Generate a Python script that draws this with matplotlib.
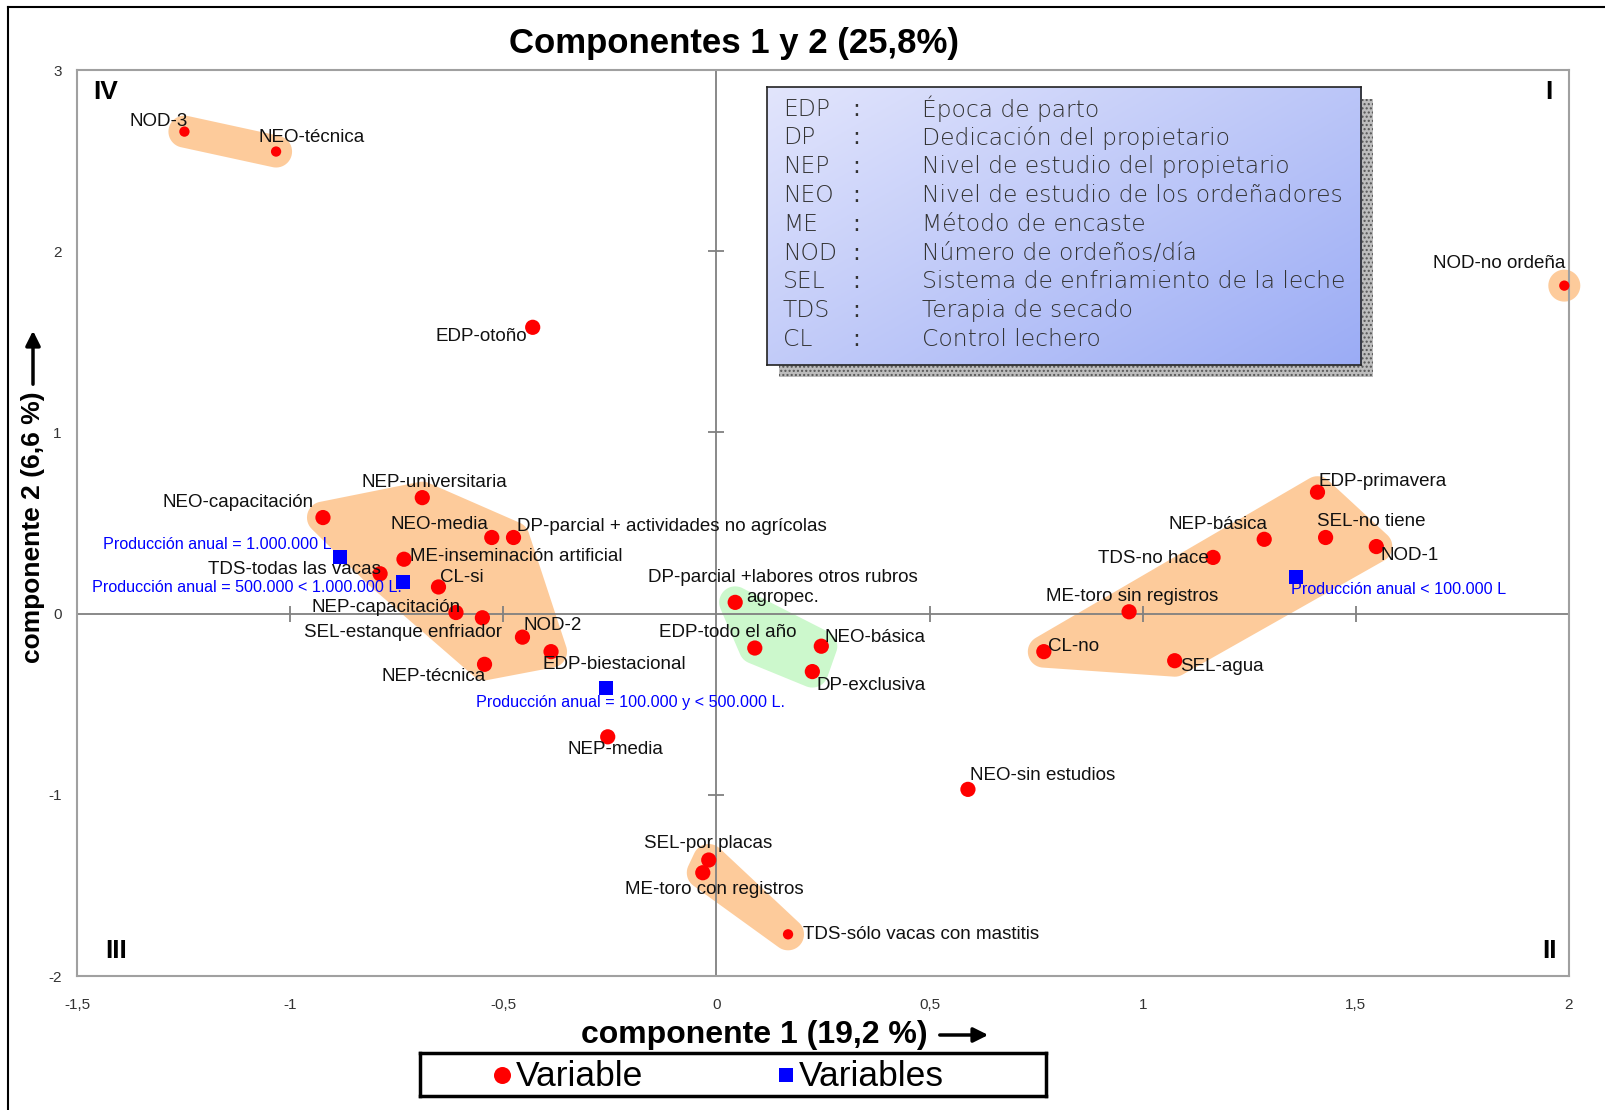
import matplotlib.pyplot as plt
import numpy as np
from matplotlib.patches import Rectangle

# coordenadas de las variables (componente 1, componente 2)
variables = ["NOD-3", "NEO-técnica", "NOD-no ordeña", "EDP-otoño",
             "NEO-capacitación", "NEP-universitaria", "NEO-media",
             "DP-parcial + actividades no agrícolas", "ME-inseminación artificial",
             "TDS-todas las vacas", "CL-si", "NEP-capacitación",
             "SEL-estanque enfriador", "NOD-2", "EDP-biestacional", "NEP-técnica",
             "NEP-media", "DP-parcial +labores otros rubros\nagropec.",
             "EDP-todo el año", "NEO-básica", "DP-exclusiva", "NEO-sin estudios",
             "SEL-por placas", "ME-toro con registros", "TDS-sólo vacas con mastitis",
             "EDP-primavera", "SEL-no tiene", "NEP-básica", "NOD-1", "TDS-no hace",
             "ME-toro sin registros", "CL-no", "SEL-agua"]
comp1 = [-1.248, -1.033, 1.989, -0.431,
         -0.923, -0.690, -0.527,
         -0.476, -0.733,
         -0.789, -0.652, -0.611,
         -0.549, -0.455, -0.388, -0.544,
         -0.255, 0.044,
         0.090, 0.246, 0.225, 0.590,
         -0.018, -0.032, 0.168,
         1.410, 1.429, 1.285, 1.548, 1.165,
         0.968, 0.768, 1.075]
comp2 = [2.66, 2.55, 1.81, 1.58,
         0.53, 0.64, 0.42,
         0.42, 0.30,
         0.22, 0.147, 0.006,
         -0.023, -0.13, -0.21, -0.28,
         -0.68, 0.062,
         -0.19, -0.18, -0.32, -0.97,
         -1.36, -1.43, -1.77,
         0.67, 0.42, 0.41, 0.37, 0.31,
         0.01, -0.21, -0.26]

# produccion anual (cuadrados azules)
produccion = ["Producción anual = 1.000.000 L", "Producción anual = 500.000 < 1.000.000 L.",
              "Producción anual = 100.000 y < 500.000 L.", "Producción anual < 100.000 L"]
prod1 = [-0.883, -0.736, -0.258, 1.360]
prod2 = [0.31, 0.175, -0.41, 0.20]

# grupos sombreados (indices de variables)
grupos = [[0, 1], [2], list(range(4, 16)), [22, 23, 24], list(range(25, 33)), [17, 18, 19, 20]]
colores_grupo = ["#fdcb9b"] * 5 + ["#ccf8cc"]

abrev = ["EDP", "DP", "NEP", "NEO", "ME", "NOD", "SEL", "TDS", "CL"]
significado = ["Época de parto", "Dedicación del propietario", "Nivel de estudio del propietario",
               "Nivel de estudio de los ordeñadores", "Método de encaste", "Número de ordeños/día",
               "Sistema de enfriamiento de la leche", "Terapia de secado", "Control lechero"]

xticks = [-1.5, -1, -0.5, 0, 0.5, 1, 1.5, 2]
xticklabels = ["-1,5", "-1", "-0,5", "0", "0,5", "1", "1,5", "2"]
yticks = [-2, -1, 0, 1, 2, 3]
yticklabels = ["-2", "-1", "0", "1", "2", "3"]

# posicion de etiquetas (pixeles respecto al punto)
etq = [(3, 10, "right"), (-18, 14, "left"), (1, 22, "right"), (-6, -9, "right"),
       (-9, 15, "right"), (-61, 15, "left"), (-3, 13, "right"),
       (3, 11, "left"), (6, 3, "left"),
       (1, 4, "right"), (2, 9, "left"), (5, 5, "right"),
       (20, -15, "right"), (1, 12, "left"), (-9, -13, "left"), (1, -12, "right"),
       (-40, -13, "left"), (48, 15, "center"),
       (-96, 16, "left"), (3, 9, "left"), (4, -14, "left"), (2, 14, "left"),
       (-65, 17, "left"), (-78, -17, "left"), (15, 0, "left"),
       (1, 11, "left"), (-9, 16, "left"), (3, 15, "right"), (4, -9, "left"), (-4, -1, "right"),
       (-83, 15, "left"), (4, 5, "left"), (5, -6, "left")]
etq_prod = [(-8, 13, "right"), (-1, -6, "right"), (-130, -15, "left"), (-5, -12, "left")]
pequenos = {"NOD-3", "NEO-técnica", "NOD-no ordeña", "TDS-sólo vacas con mastitis"}

W, H = 1606, 1110
plt.rcParams['font.family'] = ['Liberation Sans', 'DejaVu Sans']

fig = plt.figure(figsize=(W / 100, H / 100), dpi=100)


def px(x, y):
    return x / W, 1 - y / H


ax = fig.add_axes([77 / W, 1 - 976 / H, 1492 / W, 906 / H])
ax.set_xlim(-1.5, 2)
ax.set_ylim(-2, 3)
for s in ax.spines.values():
    s.set_color("#a0a0a0")
    s.set_linewidth(1.5)
ax.set_xticks(xticks)
ax.set_xticklabels(xticklabels)
ax.set_yticks(yticks)
ax.set_yticklabels(yticklabels)
ax.tick_params(length=0, labelsize=11, labelcolor="#333333")
ax.tick_params(axis="x", pad=16)
ax.tick_params(axis="y", pad=11)


def hull(p):
    p = sorted(map(tuple, p))

    def cross(o, a, b):
        return (a[0] - o[0]) * (b[1] - o[1]) - (a[1] - o[1]) * (b[0] - o[0])
    lo, up = [], []
    for q in p:
        while len(lo) >= 2 and cross(lo[-2], lo[-1], q) <= 0:
            lo.pop()
        lo.append(q)
    for q in reversed(p):
        while len(up) >= 2 and cross(up[-2], up[-1], q) <= 0:
            up.pop()
        up.append(q)
    return np.array(lo[:-1] + up[:-1])


# manchas alrededor de los grupos
ang = np.linspace(0, 2 * np.pi, 48, endpoint=False)
circ = np.column_stack([np.cos(ang), np.sin(ang)])
for g, col in zip(grupos, colores_grupo):
    pts = ax.transData.transform(np.column_stack([np.take(comp1, g), np.take(comp2, g)]))
    ring = np.vstack([p + 16 * circ for p in pts])
    poly = ax.transData.inverted().transform(hull(ring))
    ax.fill(poly[:, 0], poly[:, 1], color=col, lw=0, zorder=1, clip_on=False)

# ejes cruzados con marcas
ax.axhline(0, color="#808080", lw=1.3, zorder=2)
ax.axvline(0, color="#808080", lw=1.3, zorder=2)
ax.plot([t for t in xticks if t != 0], [0] * 7, ls="none", marker="|", ms=11,
        mew=1.3, color="#808080", zorder=2, clip_on=False)
ax.plot([0] * 5, [t for t in yticks if t != 0], ls="none", marker="_", ms=11,
        mew=1.3, color="#808080", zorder=2, clip_on=False)

tam = [55 if v in pequenos else 120 for v in variables]
ax.scatter(comp1, comp2, s=tam, c="#ff0000", lw=0, zorder=4, clip_on=False)
ax.scatter(prod1, prod2, s=90, c="#0000ff", marker="s", lw=0, zorder=4)

for v, x, y, (dx, dy, ha) in zip(variables, comp1, comp2, etq):
    ax.annotate(v, (x, y), xytext=(dx, dy), textcoords="offset pixels", ha=ha,
                va="center", fontsize=13.5, color="#111111", zorder=5,
                multialignment="center")
for v, x, y, (dx, dy, ha) in zip(produccion, prod1, prod2, etq_prod):
    ax.annotate(v, (x, y), xytext=(dx, dy), textcoords="offset pixels", ha=ha,
                va="center", fontsize=11.6, color="#0000ff", zorder=5)

# cuadrantes
for txt, qx, qy in [("IV", 0.0194, 0.9757), ("I", 0.9866, 0.9757),
                    ("III", 0.026, 0.0276), ("II", 0.9866, 0.0276)]:
    ax.text(qx, qy, txt, transform=ax.transAxes, ha="center", va="center",
            fontsize=19, fontweight="bold")

# cuadro de abreviaturas
fig.add_artist(Rectangle(px(779, 377), 594 / W, 278 / H, transform=fig.transFigure,
                         facecolor="#bdbdbd", edgecolor="#555555", hatch="....",
                         lw=0, zorder=2))
bx = fig.add_axes([767 / W, 1 - 365 / H, 594 / W, 278 / H], zorder=3)
gx, gy = np.meshgrid(np.linspace(0, 1, 200), np.linspace(0, 1, 100))
grad = 0.55 * gx + 0.45 * gy
c0 = np.array([226, 229, 252]) / 255
c1 = np.array([155, 172, 245]) / 255
bx.imshow(c0 + grad[..., None] * (c1 - c0), extent=[0, 1, 0, 1], aspect="auto",
          origin="upper")
bx.set_xticks([])
bx.set_yticks([])
for s in bx.spines.values():
    s.set_color("#222222")
    s.set_linewidth(1.2)
for i, (a, d) in enumerate(zip(abrev, significado)):
    yy = 109 + i * 28.8
    fig.text(*px(783, yy), a, ha="left", va="center", fontsize=16.8, color="#333333",
             family="DejaVu Sans", fontweight="light", zorder=4)
    fig.text(*px(856, yy), ":", ha="center", va="center", fontsize=16.8, color="#333333",
             family="DejaVu Sans", zorder=4)
    fig.text(*px(922, yy), d, ha="left", va="center", fontsize=16.8, color="#333333",
             family="DejaVu Sans", fontweight="light", zorder=4)

# titulos
fig.text(*px(734, 43), "Componentes 1 y 2 (25,8%)", ha="center", va="center",
         fontsize=25, fontweight="bold")
fig.text(*px(754, 1035), "componente 1 (19,2 %)", ha="center", va="center",
         fontsize=23, fontweight="bold")
fig.text(*px(33, 527), "componente 2 (6,6 %)", ha="center", va="center",
         fontsize=19, fontweight="bold", rotation=90)
ax.annotate("", xy=(991, H - 1035), xytext=(937, H - 1035), xycoords="figure pixels",
            textcoords="figure pixels",
            arrowprops=dict(arrowstyle="-|>", lw=2.5, color="k", mutation_scale=22))
ax.annotate("", xy=(33, H - 328), xytext=(33, H - 387), xycoords="figure pixels",
            textcoords="figure pixels",
            arrowprops=dict(arrowstyle="-|>", lw=2.5, color="k", mutation_scale=22))

# leyenda inferior
lg = fig.add_axes([420 / W, 1 - 1096 / H, 626 / W, 43 / H])
lg.set_xlim(0, 1)
lg.set_ylim(0, 1)
lg.set_xticks([])
lg.set_yticks([])
for s in lg.spines.values():
    s.set_linewidth(2.5)
lg.scatter([0.131], [0.5], s=150, c="#ff0000", lw=0)
lg.scatter([0.585], [0.5], s=90, c="#0000ff", marker="s", lw=0)
lg.text(0.153, 0.45, "Variable", va="center", fontsize=25.5)
lg.text(0.605, 0.45, "Variables", va="center", fontsize=25.5)

# marco exterior
fig.add_artist(plt.Line2D([8 / W, 8 / W], [0, 1 - 7 / H], transform=fig.transFigure,
                          color="k", lw=1.5))
fig.add_artist(plt.Line2D([8 / W, 1], [1 - 7 / H, 1 - 7 / H], transform=fig.transFigure,
                          color="k", lw=1.5))

fig.savefig("out.png", dpi=100)
